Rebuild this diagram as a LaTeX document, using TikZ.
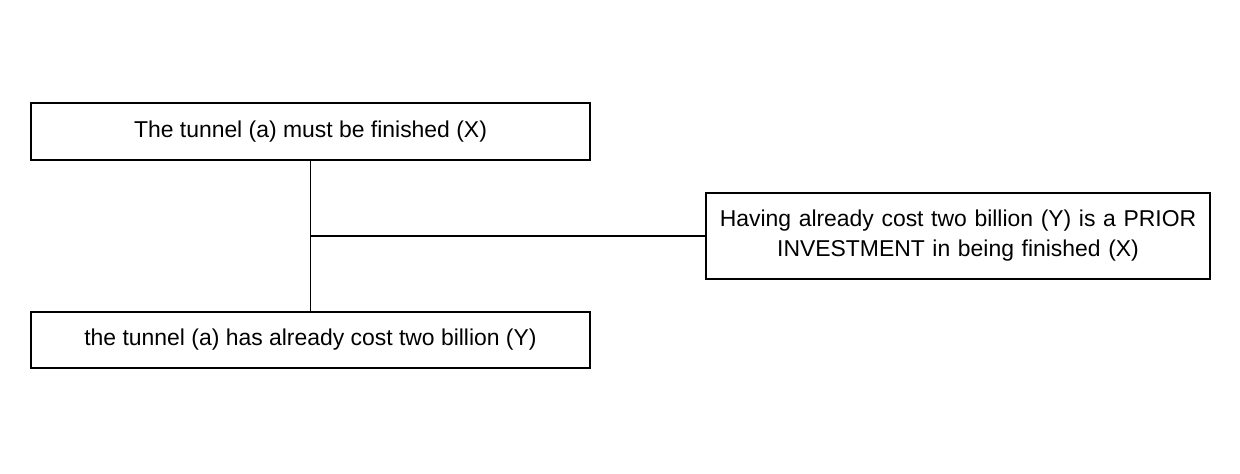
\documentclass[tikz,border=0pt]{standalone}
\usepackage{fontspec}
\setmainfont{Liberation Sans}
\usetikzlibrary{positioning, calc}

\tikzset{
  argbox/.style={draw, line width=1.4pt, inner sep=0pt, align=center,
    font=\fontsize{16.3}{21.3}\selectfont},
  argline/.style={line width=1.4pt}
}

\begin{document}
\begin{tikzpicture}[x=0.025cm, y=-0.025cm]
  % Canvas
  \useasboundingbox (0,0) rectangle (1240,473);

  % Premises on the left
  \node[argbox, minimum width=13.975cm, minimum height=1.425cm] (conclusion) at (310.5,131.5) {The tunnel (a) must be finished (X)};
  \node[argbox, minimum width=13.975cm, minimum height=1.4cm] (premise) at (310.5,340) {the tunnel (a) has already cost two billion (Y)};

  % Lever on the right
  \node[argbox, minimum width=12.6cm, minimum height=2.15cm, text width=12cm] (lever) at (958,236) {Having already cost two billion (Y) is a PRIOR\\INVESTMENT in being finished (X)};

  % Connectors
  \draw[argline] (conclusion.south) -- (premise.north);
  \coordinate (joint) at ($(conclusion.south)!0.5!(premise.north)$);
  \draw[argline] (joint) -- (lever.west);
\end{tikzpicture}
\end{document}
